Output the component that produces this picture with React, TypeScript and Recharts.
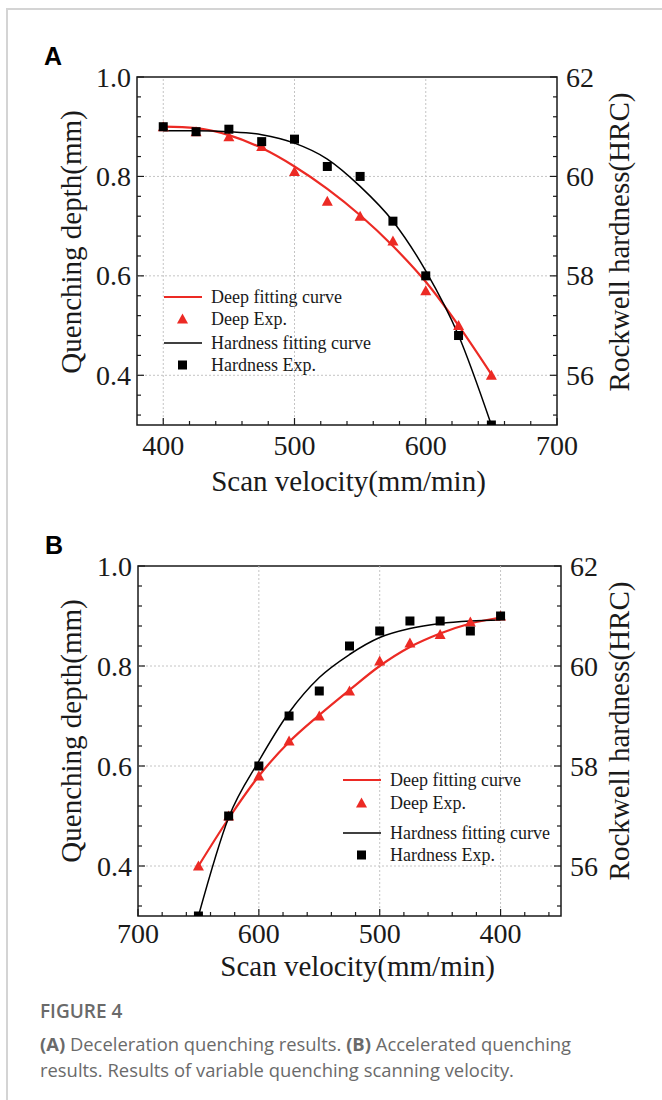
import { ComposedChart, Line, Scatter, XAxis, YAxis, ReferenceLine, ReferenceArea } from 'recharts';

const SERIF = '"Liberation Serif", "Times New Roman", serif';
const RED = '#ec2a24';
const INK = '#1a1a1a';

// scan velocity (mm/min) of each measurement
const velocity = [400, 425, 450, 475, 500, 525, 550, 575, 600, 625, 650];

// (A) deceleration quenching
const depthExpA = [0.9, 0.89, 0.88, 0.86, 0.81, 0.75, 0.72, 0.67, 0.57, 0.5, 0.4];
const depthFitA = [0.9, 0.897, 0.883, 0.857, 0.82, 0.775, 0.722, 0.66, 0.588, 0.5, 0.402];
const hardExpA = [61.0, 60.9, 60.95, 60.7, 60.75, 60.2, 60.0, 59.1, 58.0, 56.8, 55.0];
const hardFitA = [60.92, 60.92, 60.9, 60.84, 60.67, 60.35, 59.8, 59.1, 58.1, 56.8, 55.0];

// (B) accelerated quenching
const depthExpB = [0.9, 0.888, 0.863, 0.846, 0.81, 0.75, 0.7, 0.65, 0.58, 0.5, 0.4];
const depthFitB = [0.897, 0.885, 0.865, 0.838, 0.8, 0.752, 0.702, 0.648, 0.58, 0.495, 0.4];
const hardExpB = [61.0, 60.7, 60.9, 60.9, 60.7, 60.4, 59.5, 59.0, 58.0, 57.0, 55.0];
const hardFitB = [60.92, 60.9, 60.85, 60.75, 60.57, 60.23, 59.77, 59.07, 58.1, 56.97, 55.0];

// axis ticks (major ones get a label)
const xTicksA = [400, 420, 440, 460, 480, 500, 520, 540, 560, 580, 600, 620, 640, 660, 680, 700];
const xTicksB = [360, 380, 400, 420, 440, 460, 480, 500, 520, 540, 560, 580, 600, 620, 640, 660, 680, 700];
const xMajor = [400, 500, 600, 700];
const depthTicks = [0.32, 0.36, 0.4, 0.44, 0.48, 0.52, 0.56, 0.6, 0.64, 0.68, 0.72, 0.76, 0.8, 0.84, 0.88, 0.92, 0.96, 1.0];
const depthMajor = [0.4, 0.6, 0.8, 1.0];
const hardTicks = [55.2, 55.6, 56, 56.4, 56.8, 57.2, 57.6, 58, 58.4, 58.8, 59.2, 59.6, 60, 60.4, 60.8, 61.2, 61.6, 62];
const hardMajor = [56, 58, 60, 62];
const xGrid = [400, 500, 600];
const yGrid = [0.4, 0.6, 0.8];

const isMajor = (v: number, majors: number[]) => majors.some((m) => Math.abs(m - v) < 1e-6);

function makeTick(side: 'bottom' | 'left' | 'right', majors: number[], fmt: (v: number) => string, gap: number) {
  return (props: any) => {
    const { x, y, payload } = props;
    const v = payload.value;
    const major = isMajor(v, majors);
    const len = major ? 7 : 4;
    if (side === 'bottom') {
      return (
        <g>
          <line x1={x} x2={x} y1={y} y2={y - len} stroke={INK} strokeWidth={1.2} />
          {major && (
            <text x={x} y={y + gap} dy="0.71em" textAnchor="middle" fontFamily={SERIF} fontSize={28} fill={INK}>
              {fmt(v)}
            </text>
          )}
        </g>
      );
    }
    const dir = side === 'left' ? 1 : -1;
    return (
      <g>
        <line x1={x} x2={x + dir * len} y1={y} y2={y} stroke={INK} strokeWidth={1.2} />
        {major && (
          <text
            x={x - dir * gap}
            y={y}
            dy="0.34em"
            textAnchor={side === 'left' ? 'end' : 'start'}
            fontFamily={SERIF}
            fontSize={28}
            fill={INK}
          >
            {fmt(v)}
          </text>
        )}
      </g>
    );
  };
}

const Triangle = (p: any) =>
  p.cx == null ? null : (
    <polygon points={`${p.cx},${p.cy - 5.5} ${p.cx - 5.5},${p.cy + 4.5} ${p.cx + 5.5},${p.cy + 4.5}`} fill={RED} />
  );
const Square = (p: any) =>
  p.cx == null ? null : <rect x={p.cx - 4.5} y={p.cy - 4.5} width={9} height={9} fill="#000" />;

const legendItems = [
  { label: 'Deep fitting curve', kind: 'line', color: RED, width: 2.2 },
  { label: 'Deep Exp.', kind: 'tri' },
  { label: 'Hardness fitting curve', kind: 'line', color: '#000', width: 1.5 },
  { label: 'Hardness Exp.', kind: 'sq' },
];

function ChartLegend({ x, ys }: { x: number; ys: number[] }) {
  return (
    <>
      {legendItems.map((it, i) => (
        <div
          key={it.label}
          style={{ position: 'absolute', left: x, top: ys[i] - 10, height: 20, display: 'flex', alignItems: 'center' }}
        >
          <svg width={39} height={20}>
            {it.kind === 'line' && <line x1={0} x2={38} y1={10} y2={10} stroke={it.color} strokeWidth={it.width} />}
            {it.kind === 'tri' && <Triangle cx={18.5} cy={10} />}
            {it.kind === 'sq' && <Square cx={18.5} cy={10} />}
          </svg>
          <span style={{ marginLeft: 8, fontFamily: SERIF, fontSize: 18, color: INK, whiteSpace: 'nowrap' }}>
            {it.label}
          </span>
        </div>
      ))}
    </>
  );
}

type PanelProps = {
  top: number;
  margin: { top: number; right: number; bottom: number; left: number };
  xDomain: [number, number];
  xTicks: number[];
  reversed?: boolean;
  dExp: number[];
  dFit: number[];
  hExp: number[];
  hFit: number[];
  xGap: number;
};

function Panel({ top, margin, xDomain, xTicks, reversed, dExp, dFit, hExp, hFit, xGap }: PanelProps) {
  const rows = velocity.map((v, i) => ({ v, dExp: dExp[i], dFit: dFit[i], hExp: hExp[i], hFit: hFit[i] }));
  return (
    <div style={{ position: 'absolute', left: 0, top }}>
      <ComposedChart width={662} height={500} data={rows} margin={margin}>
        <XAxis
          dataKey="v"
          type="number"
          domain={xDomain}
          reversed={reversed}
          ticks={xTicks}
          interval={0}
          allowDataOverflow
          axisLine={false}
          tickLine={false}
          tickSize={0}
          tickMargin={0}
          height={40}
          tick={makeTick('bottom', xMajor, (v) => String(v), xGap)}
        />
        <YAxis
          yAxisId="left"
          type="number"
          domain={[0.3, 1.0]}
          ticks={depthTicks}
          interval={0}
          allowDataOverflow
          axisLine={false}
          tickLine={false}
          tickSize={0}
          tickMargin={0}
          width={60}
          tick={makeTick('left', depthMajor, (v) => v.toFixed(1), 6)}
        />
        <YAxis
          yAxisId="right"
          orientation="right"
          type="number"
          domain={[55, 62]}
          ticks={hardTicks}
          interval={0}
          allowDataOverflow
          axisLine={false}
          tickLine={false}
          tickSize={0}
          tickMargin={0}
          width={60}
          tick={makeTick('right', hardMajor, (v) => String(Math.round(v)), 9)}
        />
        {xGrid.map((g) => (
          <ReferenceLine key={`x${g}`} x={g} yAxisId="left" stroke="#c4c4c4" strokeDasharray="2 2" />
        ))}
        {yGrid.map((g) => (
          <ReferenceLine key={`y${g}`} y={g} yAxisId="left" stroke="#c4c4c4" strokeDasharray="2 2" />
        ))}
        <Line
          type="monotone"
          dataKey="dFit"
          yAxisId="left"
          stroke={RED}
          strokeWidth={2.2}
          dot={false}
          activeDot={false}
          isAnimationActive={false}
        />
        <Scatter dataKey="dExp" yAxisId="left" shape={Triangle} isAnimationActive={false} />
        <Line
          type="monotone"
          dataKey="hFit"
          yAxisId="right"
          stroke="#000"
          strokeWidth={1.5}
          dot={false}
          activeDot={false}
          isAnimationActive={false}
        />
        <Scatter dataKey="hExp" yAxisId="right" shape={Square} isAnimationActive={false} />
        <ReferenceArea
          x1={xDomain[0]}
          x2={xDomain[1]}
          y1={0.3}
          y2={1.0}
          yAxisId="left"
          fill="none"
          stroke={INK}
          strokeWidth={1.5}
          ifOverflow="visible"
        />
      </ComposedChart>
    </div>
  );
}

const titleStyle = { position: 'absolute' as const, fontFamily: SERIF, fontSize: 29, lineHeight: 1, color: INK, whiteSpace: 'nowrap' as const };

function AxisTitles({ bx, by, cy }: { bx: number; by: number; cy: number }) {
  return (
    <>
      <div style={{ ...titleStyle, left: bx, top: by, transform: 'translateX(-50%)' }}>Scan velocity(mm/min)</div>
      <div style={{ ...titleStyle, left: 71, top: cy, transform: 'translate(-50%, -50%) rotate(-90deg)' }}>
        Quenching depth(mm)
      </div>
      <div style={{ ...titleStyle, left: 619, top: cy, transform: 'translate(-50%, -50%) rotate(-90deg)' }}>
        Rockwell hardness(HRC)
      </div>
    </>
  );
}

const letterStyle = {
  position: 'absolute' as const,
  fontFamily: '"Liberation Sans", Arial, sans-serif',
  fontWeight: 700,
  fontSize: 25,
  lineHeight: 1,
  color: '#000',
};

const capStyle = { fontFamily: '"Open Sans", "Noto Sans", sans-serif', color: '#6a6a6a', whiteSpace: 'nowrap' as const };

export default function App() {
  return (
    <div style={{ position: 'absolute', left: 0, top: 0, width: 662, height: 1100, background: '#fff', overflow: 'hidden' }}>
      <div
        style={{
          position: 'absolute',
          left: 6,
          top: 8,
          width: 660,
          height: 1096,
          borderTop: '2px solid #d4d4d4',
          borderLeft: '2px solid #d4d4d4',
        }}
      />
      <Panel
        top={0}
        margin={{ top: 77, right: 45, bottom: 35, left: 77 }}
        xDomain={[380, 700]}
        xTicks={xTicksA}
        dExp={depthExpA}
        dFit={depthFitA}
        hExp={hardExpA}
        hFit={hardFitA}
        xGap={10}
      />
      <Panel
        top={489}
        margin={{ top: 77, right: 41, bottom: 33, left: 78 }}
        xDomain={[350, 700]}
        xTicks={xTicksB}
        reversed
        dExp={depthExpB}
        dFit={depthFitB}
        hExp={hardExpB}
        hFit={hardFitB}
        xGap={7}
      />
      <div style={{ ...letterStyle, left: 44, top: 44 }}>A</div>
      <div style={{ ...letterStyle, left: 45, top: 533 }}>B</div>
      <AxisTitles bx={348.5} by={467} cy={242} />
      <AxisTitles bx={357.6} by={952} cy={731} />
      <ChartLegend x={164} ys={[297, 319, 343, 365]} />
      <ChartLegend x={343} ys={[780, 803, 833, 855]} />
      <div style={{ ...capStyle, position: 'absolute', left: 40, top: 998, fontSize: 19, fontWeight: 600 }}>FIGURE 4</div>
      <div style={{ ...capStyle, position: 'absolute', left: 40, top: 1031, fontSize: 18.4, lineHeight: '26px' }}>
        <b style={{ fontWeight: 700 }}>(A)</b> Deceleration quenching results. <b style={{ fontWeight: 700 }}>(B)</b>{' '}
        Accelerated quenching
        <br />
        results. Results of variable quenching scanning velocity.
      </div>
    </div>
  );
}
